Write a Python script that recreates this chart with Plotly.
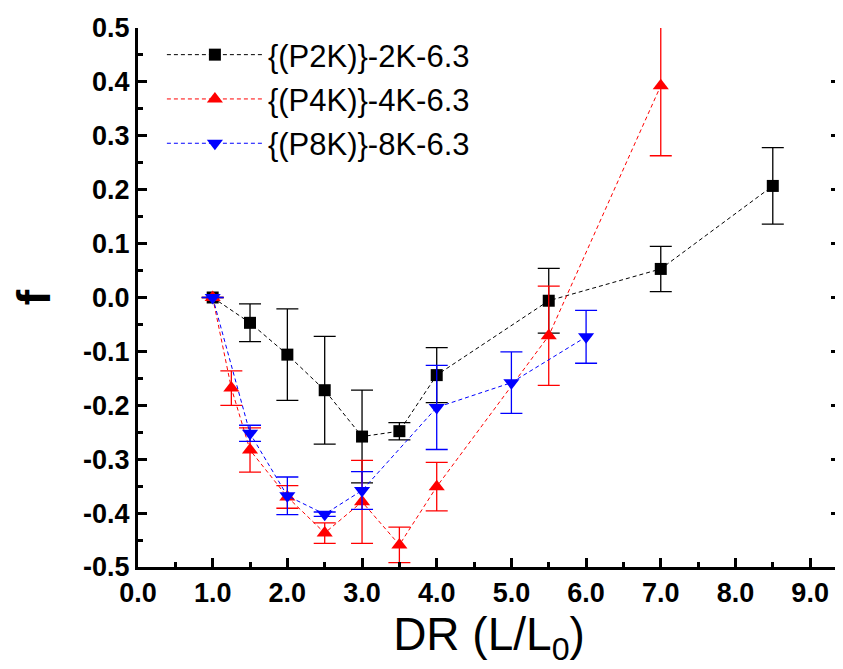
import plotly.graph_objects as go

# ---- data ----
x_p2k = [1.0, 1.5, 2.0, 2.5, 3.0, 3.5, 4.0, 5.5, 7.0, 8.5]
y_p2k = [0.0, -0.047, -0.106, -0.172, -0.258, -0.248, -0.144, -0.006, 0.053, 0.207]
e_p2k = [0.0, 0.035, 0.085, 0.100, 0.086, 0.016, 0.051, 0.060, 0.042, 0.071]

x_p4k = [1.0, 1.25, 1.5, 2.0, 2.5, 3.0, 3.5, 4.0, 5.5, 7.0]
y_p4k = [0.0, -0.168, -0.283, -0.370, -0.437, -0.379, -0.459, -0.351, -0.071, 0.393]
e_p4k = [0.0, 0.032, 0.041, 0.021, 0.019, 0.077, 0.033, 0.045, 0.092, 0.130]

x_p8k = [1.0, 1.5, 2.0, 2.5, 3.0, 4.0, 5.0, 6.0]
y_p8k = [0.0, -0.252, -0.368, -0.402, -0.358, -0.204, -0.158, -0.073]
e_p8k = [0.0, 0.015, 0.035, 0.004, 0.035, 0.078, 0.057, 0.049]

names = ["{(P2K)}-2K-6.3", "{(P4K)}-4K-6.3", "{(P8K)}-8K-6.3"]
colors = ["#000000", "#ff0000", "#0000ff"]
symbols = ["square", "triangle-up", "triangle-down"]
sizes = [12, 14, 14]

x_ticks = [0, 1, 2, 3, 4, 5, 6, 7, 8, 9]
x_ticklabels = ["0.0", "1.0", "2.0", "3.0", "4.0", "5.0", "6.0", "7.0", "8.0", "9.0"]
y_ticks = [-0.5, -0.4, -0.3, -0.2, -0.1, 0.0, 0.1, 0.2, 0.3, 0.4, 0.5]
y_ticklabels = ["-0.5", "-0.4", "-0.3", "-0.2", "-0.1", "0.0", "0.1", "0.2", "0.3", "0.4", "0.5"]

fig = go.Figure()
series = [(x_p2k, y_p2k, e_p2k), (x_p4k, y_p4k, e_p4k), (x_p8k, y_p8k, e_p8k)]
for i, (xs, ys, es) in enumerate(series):
    fig.add_trace(go.Scatter(
        x=xs, y=ys, name=names[i], mode="lines+markers",
        legendgroup=f"g{i}",
        line=dict(color=colors[i], width=1, dash="4px,3px"),
        marker=dict(symbol=symbols[i], size=sizes[i], color=colors[i], line=dict(width=0)),
        error_y=dict(type="data", array=es, visible=True, color=colors[i], thickness=1.3, width=11),
    ))

FONT = "Liberation Sans, Arial, sans-serif"
fig.update_layout(
    width=835, height=661,
    margin=dict(l=130, r=0, t=20, b=102),
    paper_bgcolor="white", plot_bgcolor="white",
    showlegend=True,
    legend=dict(
        x=24 / 705, y=1.0, xanchor="left", yanchor="top",
        font=dict(family=FONT, size=31, color="black"),
        itemwidth=96,
        bgcolor="rgba(0,0,0,0)", traceorder="grouped", tracegroupgap=1,
    ),
    xaxis=dict(
        range=[0, 9.4], tickmode="array", tickvals=x_ticks, ticktext=x_ticklabels,
        showgrid=False, zeroline=False, showline=True, linecolor="black", linewidth=3,
        ticks="inside", ticklen=9, tickwidth=3, tickcolor="black",
        minor=dict(dtick=0.5, ticks="inside", ticklen=5, tickwidth=3, tickcolor="black", showgrid=False),
        tickfont=dict(family=FONT, size=27, color="black", weight="bold"),
        title=dict(text="DR (L/L<sub>0</sub>)", font=dict(family=FONT, size=46, color="black"), standoff=6),
    ),
    yaxis=dict(
        range=[-0.5, 0.5], tickmode="array", tickvals=y_ticks, ticktext=y_ticklabels,
        showgrid=False, zeroline=False, showline=True, linecolor="black", linewidth=3,
        mirror="ticks",
        ticks="inside", ticklen=9, tickwidth=3, tickcolor="black",
        minor=dict(dtick=0.05, ticks="inside", ticklen=5, tickwidth=3, tickcolor="black", showgrid=False),
        tickfont=dict(family=FONT, size=27, color="black", weight="bold"),
        title=dict(text="f", font=dict(family=FONT, size=46, color="black", weight="bold"), standoff=30),
    ),
)

fig.write_html("out.html")
